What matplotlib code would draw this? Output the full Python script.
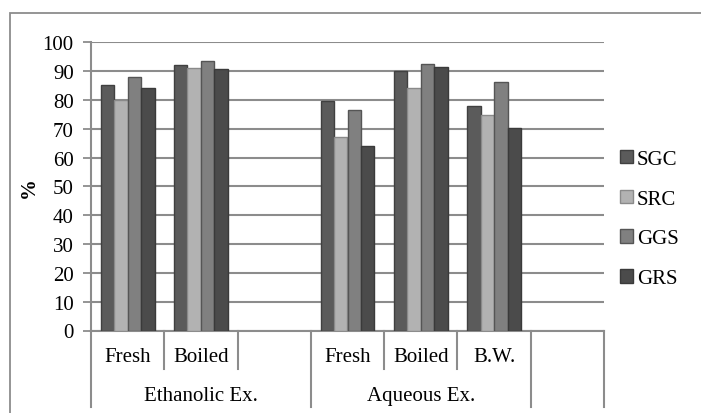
import matplotlib
matplotlib.use('Agg')
import matplotlib.pyplot as plt
from matplotlib.patches import Rectangle
import numpy as np

# sub categories (blank ones are empty slots in the original sheet)
sub_labels = ["Fresh", "Boiled", "", "Fresh", "Boiled", "B.W.", ""]
group_labels = ["Ethanolic Ex.", "Aqueous Ex.", ""]
group_sizes = [3, 3, 1]

series = ["SGC", "SRC", "GGS", "GRS"]
sgc = [85.1, 92.1, np.nan, 79.7, 89.9, 77.8, np.nan]
src = [80.0, 91.0, np.nan, 67.0, 84.0, 74.8, np.nan]
ggs = [87.8, 93.6, np.nan, 76.6, 92.6, 86.1, np.nan]
grs = [84.1, 90.9, np.nan, 64.0, 91.3, 70.4, np.nan]
values = [sgc, src, ggs, grs]

fill = ["#5b5b5b", "#b2b2b2", "#808080", "#4b4b4b"]
edge = ["#404040", "#8a8a8a", "#555555", "#3a3a3a"]
grid_col = "#8c8c8c"

plt.rcParams['font.family'] = ['Liberation Serif', 'DejaVu Serif']
fs = 15

W, H = 701, 414
fig = plt.figure(figsize=(W / 100, H / 100), dpi=100)

# outer chart border (only left/top are in frame)
fig.patches.append(Rectangle((10 / W, -0.1), 1.2, (H - 14) / H + 0.1,
                             transform=fig.transFigure, fill=False,
                             edgecolor=grid_col, linewidth=1.3))

x0, x1 = 91, 604
y_top, y_bot = 43.3, 331.5
ax = fig.add_axes([x0 / W, (H - y_bot) / H, (x1 - x0) / W, (y_bot - y_top) / H])

x = np.arange(len(sub_labels))
bw = 0.184
for i, (name, vals) in enumerate(zip(series, values)):
    ax.bar(x + (i - 1.5) * bw, vals, width=bw, color=fill[i],
           edgecolor=edge[i], linewidth=1.0, label=name, zorder=3)

ax.set_xlim(-0.5, len(sub_labels) - 0.5)
ax.set_ylim(0, 100)
ax.set_yticks(np.arange(0, 101, 10))
ax.tick_params(axis='y', labelsize=fs, length=6, width=1.3, color=grid_col,
               direction='out', pad=6.5)
ax.set_xticks([])
ax.yaxis.grid(True, color=grid_col, linewidth=1.5, zorder=0)
ax.set_axisbelow(True)
for s in ['top', 'right']:
    ax.spines[s].set_visible(False)
for s in ['left', 'bottom']:
    ax.spines[s].set_color(grid_col)
    ax.spines[s].set_linewidth(1.5)

fig.text(29 / W, (H - 188) / H, "%", rotation=90, fontsize=fs,
         fontweight='bold', ha='center', va='center')

# multi level category axis
tr = ax.get_xaxis_transform()
ph = y_bot - y_top
y_sub_end = -(370 - y_bot) / ph
y_grp_end = -(408 - y_bot) / ph
y_sub_txt = -(358 - y_bot) / ph
y_grp_txt = -(397 - y_bot) / ph

for i, lab in enumerate(sub_labels):
    ax.text(i, y_sub_txt, lab, transform=tr, ha='center', va='center', fontsize=fs)

bounds = np.cumsum([0] + group_sizes)
for b in range(len(sub_labels) + 1):
    end = y_grp_end if b in bounds else y_sub_end
    ax.plot([b - 0.5, b - 0.5], [0, end], transform=tr, color=grid_col,
            linewidth=1.5, clip_on=False)
for g, lab in enumerate(group_labels):
    mid = (bounds[g] + bounds[g + 1] - 1) / 2
    ax.text(mid, y_grp_txt, lab, transform=tr, ha='center', va='center', fontsize=fs)

leg = ax.legend(loc='center left', bbox_to_anchor=(620 / W, (H - 220) / H),
                bbox_transform=fig.transFigure, frameon=False, fontsize=fs,
                handlelength=0.6, handleheight=0.6, handletextpad=0.2,
                labelspacing=1.0, borderpad=0, borderaxespad=0)

fig.savefig("out.png", dpi=100)
